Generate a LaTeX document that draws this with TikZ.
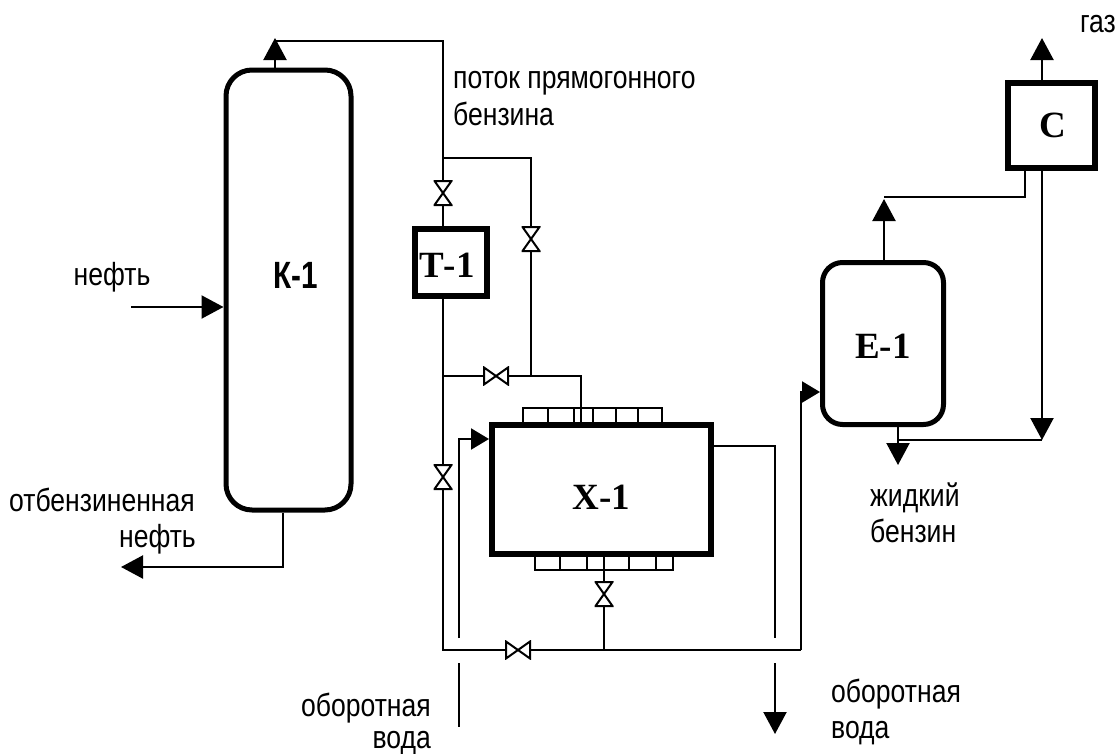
\documentclass[tikz,border=0pt]{standalone}
\usepackage{fontspec}
\setmainfont{Liberation Serif}
\setsansfont[FakeStretch=0.83]{Liberation Sans}
\newfontfamily\kolonnafont[FakeStretch=0.78]{Liberation Sans}
\usepackage{tikz}
\usetikzlibrary{arrows.meta, positioning, calc}

\tikzset{
  unitbox/.style={draw=black, line width=6pt, fill=white, inner sep=0pt, font=\bfseries\fontsize{37}{40}\selectfont},
  vessel/.style={unitbox, line width=5pt, rounded corners=26pt},
  stream/.style={draw=black, line width=2.2pt},
  feed/.style={stream, -{Triangle[length=22pt,width=23pt]}},
  smallfeed/.style={stream, -{Triangle[length=18pt,width=21pt]}},
  thinbar/.style={draw=black, line width=2pt},
  label/.style={font=\sffamily\fontsize{32}{34}\selectfont, inner sep=0pt, align=center},
  valvev/.style={inner sep=0pt, minimum width=19pt, minimum height=26pt, fill=white,
    path picture={\draw[line width=2pt]
      ($(path picture bounding box.north west)+(1,1)$) -- ($(path picture bounding box.north east)+(-1,1)$)
      -- ($(path picture bounding box.south west)+(1,-1)$) -- ($(path picture bounding box.south east)+(-1,-1)$) -- cycle;}},
  valveh/.style={inner sep=0pt, minimum width=26pt, minimum height=19pt, fill=white,
    path picture={\draw[line width=2pt]
      ($(path picture bounding box.north west)+(1,1)$) -- ($(path picture bounding box.south east)+(-1,-1)$)
      -- ($(path picture bounding box.north east)+(-1,1)$) -- ($(path picture bounding box.south west)+(1,-1)$) -- cycle;}}
}

\begin{document}
\begin{tikzpicture}[x=1pt, y=-1pt]
  \useasboundingbox (0,0) rectangle (1120,753);

  % apparatus
  \node[vessel, minimum width=125pt, minimum height=440pt, text height=27pt, text depth=30pt, font=\kolonnafont\bfseries\fontsize{38}{40}\selectfont] (K1) at (288.5,290) {\hspace{14pt}К-1};
  \node[unitbox, minimum width=72pt, minimum height=67pt, text height=30.5pt, text depth=0pt] (T1) at (450.5,262) {\hspace{-7pt}Т-1};
  \node[unitbox, minimum width=219pt, minimum height=129pt, text height=39.5pt, text depth=0pt] (X1) at (601.5,489.5) {Х-1};
  \node[vessel, rounded corners=20pt, minimum width=121pt, minimum height=162pt, text height=30.5pt, text depth=0pt] (E1) at (883,343.5) {Е-1};
  \node[unitbox, minimum width=87pt, minimum height=85pt] (C1) at (1051,125) {\hspace{3pt}С};

  % junctions
  \coordinate (k1top) at (275,41);
  \coordinate (bendtop) at (443,41);
  \coordinate (split) at (443,158);
  \coordinate (bendbypass) at (531,158);
  \coordinate (joint) at (443,376);
  \coordinate (tee) at (531,376);
  \coordinate (bendx) at (581,376);
  \coordinate (corner) at (443,650);
  \coordinate (teeb) at (604,650);
  \coordinate (bende) at (801,650);
  \coordinate (waterin) at (459,638);
  \coordinate (waterin2) at (459,663);
  \coordinate (waterlow) at (459,727);
  \coordinate (waterbend) at (459,439);
  \coordinate (waterout) at (775,638);
  \coordinate (waterout2) at (775,663);
  \coordinate (watertip) at (775,734);
  \coordinate (wateroutb) at (775,446);
  \coordinate (gastip) at (1042,38);
  \coordinate (e1tip) at (884,199);
  \coordinate (e1bend) at (884,197);
  \coordinate (c1bend) at (1025,197);
  \coordinate (c1tip) at (1042,440);
  \coordinate (e1low) at (898,440);
  \coordinate (liqtip) at (898,465);
  \coordinate (feedstart) at (131,307);
  \coordinate (botbend) at (283,567);
  \coordinate (bottip) at (121,567);

  % heat exchanger strips
  \coordinate (topstripw) at (523,422);
  \coordinate (topstripe) at (662,422);
  \draw[thinbar] (topstripw) |- (topstripe |- 0,408) -- (topstripe);
  \foreach \xdiv in {548,574,593,616,638}
    \draw[thinbar] (\xdiv,408) -- (\xdiv,422);
  \coordinate (botstripw) at (535,557);
  \coordinate (botstripe) at (673,557);
  \draw[thinbar] (botstripw) |- (botstripe |- 0,570) -- (botstripe);
  \foreach \xdiv in {560,587,604,629,656}
    \draw[thinbar] (\xdiv,557) -- (\xdiv,570);

  % pipes
  \draw[stream] (k1top) -- (bendtop) -- (split);
  \draw[stream] (split) -- (T1.north -| split);
  \draw[stream] (split) -- (bendbypass) -- (tee);
  \draw[stream] (T1.south -| split) -- (corner) -- (bende);
  \draw[stream] (joint) -- (bendx) -- (bendx |- X1.north);
  \draw[stream] (604,570) -- (teeb);
  \draw[stream] (waterin) -- (waterbend) -- (472,439);
  \draw[stream] (waterin2) -- (waterlow);
  \draw[stream] (X1.east |- wateroutb) -- (wateroutb) -- (waterout);
  \draw[stream] (e1bend) -- (c1bend) -- (c1bend |- C1.south);
  \draw[stream] (e1low) -- (c1tip);
  \draw[stream] (K1.south -| botbend) -- (botbend) -- (143,567);

  % arrows
  \draw[feed] (K1.north -| k1top) -- (275,38);
  \draw[smallfeed] (472,439) -- (X1.west |- waterbend);
  \draw[smallfeed] (bende) |- (E1.west |- 0,392);
  \draw[feed] (E1.north -| e1tip) -- (e1tip);
  \draw[feed] (C1.north -| gastip) -- (gastip);
  \draw[feed] (C1.south -| gastip) -- (c1tip);
  \draw[feed] (E1.south -| liqtip) -- (liqtip);
  \draw[feed] (feedstart) -- (K1.west |- feedstart);
  \draw[feed] (botbend) -- (bottip);
  \draw[feed] (waterout2) -- (watertip);

  % valves
  \node[valvev] (v1) at (443,193) {};
  \node[valvev] (v2) at (531,239) {};
  \node[valveh] (v3) at (496,376) {};
  \node[valvev] (v4) at (443,477) {};
  \node[valvev] (v5) at (604,594) {};
  \node[valveh] (v6) at (518,650) {};

  % labels
  \node[label, anchor=base west] (lblgasoline) at (453,88) {поток прямогонного};
  \node[label, anchor=base west] (lblgasoline2) at (453,125) {бензина};
  \node[label, anchor=base] (lbloil) at (112,285) {нефть};
  \node[label, anchor=base east] (lblstripped) at (195,511) {отбензиненная};
  \node[label, anchor=base east] (lblstripped2) at (196,547) {нефть};
  \node[label, anchor=base east] (lblwaterin) at (431,716) {оборотная};
  \node[label, anchor=base east] (lblwaterin2) at (431,748) {вода};
  \node[label, anchor=base west] (lblwaterout) at (831,702) {оборотная};
  \node[label, anchor=base west] (lblwaterout2) at (831,738) {вода};
  \node[label, anchor=base west] (lblliquid) at (870,506) {жидкий};
  \node[label, anchor=base west] (lblliquid2) at (870,542) {бензин};
  \node[label, anchor=base east] (lblgas) at (1116,32) {газ};
\end{tikzpicture}
\end{document}
